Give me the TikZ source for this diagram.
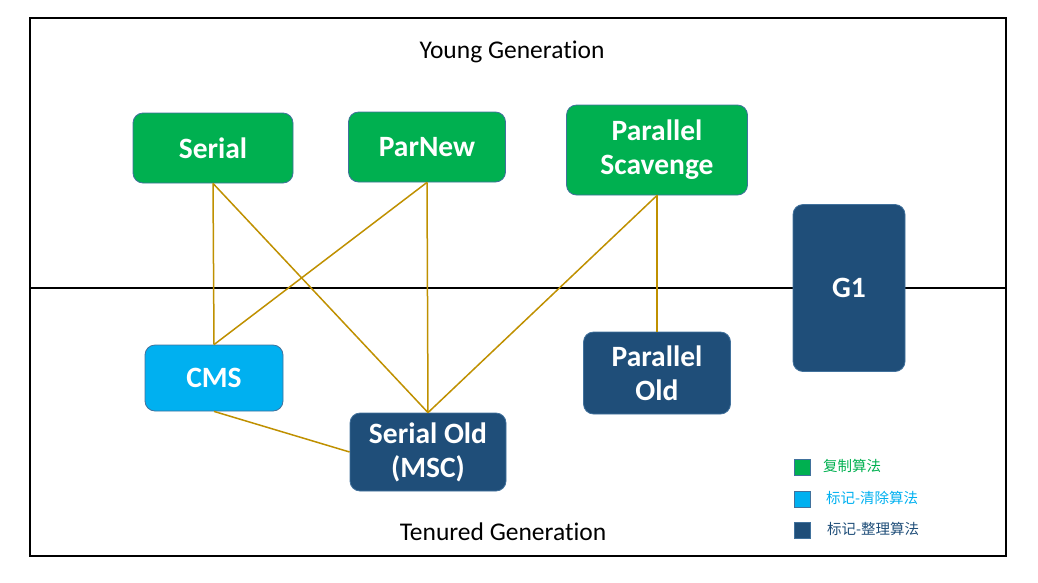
\documentclass[tikz,border=0pt]{standalone}
\usepackage{fontspec}
\setmainfont{Carlito}[Ligatures=NoCommon]
\newfontfamily\cjk{Noto Sans CJK SC}
\usetikzlibrary{positioning}
\definecolor{copyGreen}{HTML}{00B050}
\definecolor{sweepBlue}{HTML}{00B0F0}
\definecolor{compactBlue}{HTML}{1F4E79}
\definecolor{boxEdge}{HTML}{41719C}
\definecolor{linkGold}{HTML}{BF9000}

\begin{document}
\begin{tikzpicture}[x=1pt,y=-1pt,
    gc/.style={draw=boxEdge,line width=0.8pt,rounded corners=10pt,text=white,
      font=\fontsize{29.5}{34}\selectfont\bfseries,align=center,inner sep=0pt},
    link/.style={draw=linkGold,line width=1.5pt},
    key/.style={draw=boxEdge,line width=1pt,minimum size=16pt,inner sep=0pt},
    keytext/.style={anchor=west,inner sep=0pt,font=\cjk\fontsize{14.5}{16}\selectfont},
    gen/.style={font=\fontsize{25.5}{30}\selectfont}]
      \useasboundingbox (0,0) rectangle (1038,582);
      % frame and generation divider
      \draw[line width=1.3pt] (30,18) rectangle (1006,556);
      \draw[line width=1.3pt] (30,288) -- (1006,288);
      \node[gen] (young) at (512,52) {Young Generation};
      \node[gen] (tenured) at (503,532) {Tenured Generation};
      % collectors
      \node[gc,fill=copyGreen,minimum width=160pt,minimum height=70pt] (serial) at (213,148) {Serial};
      \node[gc,fill=copyGreen,minimum width=157pt,minimum height=70pt] (parNew) at (427,147) {ParNew};
      \node[gc,fill=copyGreen,minimum width=181pt,minimum height=90pt] (parScavenge) at (657,150) {Parallel\\Scavenge};
      \node[gc,fill=sweepBlue,minimum width=138pt,minimum height=66pt] (cms) at (214,378) {CMS};
      \node[gc,fill=compactBlue,minimum width=156pt,minimum height=78pt] (serialOld) at (428,452) {Serial Old\\(MSC)};
      \node[gc,fill=compactBlue,minimum width=147pt,minimum height=82pt] (parOld) at (657,373) {Parallel\\Old};
      \node[gc,fill=compactBlue,minimum width=112pt,minimum height=167pt] (g1) at (849,288) {G1};
      % pairings
      \draw[link] (serial.south) -- (cms.north);
      \draw[link] (serial.south) -- (serialOld.north);
      \draw[link] (parNew.south) -- (cms.north);
      \draw[link] (parNew.south) -- (serialOld.north);
      \draw[link] (parScavenge.south) -- (serialOld.north);
      \draw[link] (parScavenge.south) -- (parOld.north);
      \draw[link] (cms.south) -- (serialOld.west);
      % legend
      \node[key,fill=copyGreen] (keyCopy) at (802,467) {};
      \node[key,fill=sweepBlue] (keySweep) at (802,499) {};
      \node[key,fill=compactBlue] (keyCompact) at (802,530) {};
      \node[keytext,text=copyGreen] (copyText) at (823,466) {复制算法};
      \node[keytext,text=sweepBlue] (sweepText) at (826,498) {标记-清除算法};
      \node[keytext,text=compactBlue] (compactText) at (827,529) {标记-整理算法};
    \end{tikzpicture}
\end{document}
